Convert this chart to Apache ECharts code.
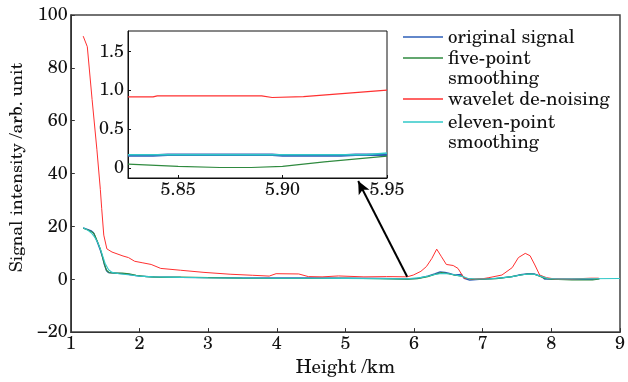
<!DOCTYPE html>
<html>
<head>
<meta charset="utf-8">
<script src="https://cdn.jsdelivr.net/npm/echarts@6/dist/echarts.min.js"></script>
<style>
html,body{margin:0;padding:0;background:#fff;}
#main{width:628px;height:382px;}
</style>
</head>
<body>
<div id="main"></div>
<script>
// series names
var names = ['original signal', 'five-point smoothing', 'wavelet de-noising', 'eleven-point smoothing'];
var colors = ['#2e5fb8', '#2f8a3f', '#ff3030', '#30c8c8'];

// main chart: [height km, intensity]
var original = [[1.18,19.4],[1.25,18.8],[1.3,18.3],[1.33,17.6],[1.38,14.5],[1.43,11],[1.46,8.5],[1.49,5.5],[1.52,3.2],[1.55,2.5],[1.6,2.4],[1.7,2.2],[1.8,2.0],[1.9,1.6],[2.0,1.2],[2.2,0.9],[2.6,0.7],[3.0,0.6],[3.5,0.5],[4.0,0.5],[4.5,0.5],[5.0,0.4],[5.5,0.3],[5.9,0.17],[6.05,0.3],[6.2,1.2],[6.3,2.0],[6.38,2.8],[6.45,2.6],[6.5,2.3],[6.6,1.6],[6.69,1.8],[6.73,0.3],[6.81,-0.3],[6.95,0.0],[7.2,0.3],[7.43,1.0],[7.55,1.7],[7.67,2.1],[7.75,2.0],[7.86,1.0],[7.9,0.1],[8.0,0.1],[8.3,0.0],[8.6,0.0],[8.7,0.2]];
var fivePoint = [[1.18,19.3],[1.25,18.6],[1.3,18.0],[1.34,17.2],[1.38,14.8],[1.43,11.5],[1.46,8.6],[1.49,5.6],[1.52,3.4],[1.56,2.5],[1.65,2.3],[1.75,2.3],[1.85,2.1],[1.95,1.5],[2.1,1.0],[2.3,0.7],[2.6,0.8],[3.0,0.6],[3.5,0.4],[4.0,0.3],[4.5,0.3],[5.0,0.4],[5.5,0.2],[5.9,0.02],[6.05,0.2],[6.2,1.0],[6.3,1.8],[6.4,2.5],[6.5,2.1],[6.6,1.5],[6.7,1.2],[6.75,0.4],[6.85,0.0],[6.95,0.0],[7.2,0.2],[7.4,0.9],[7.55,1.6],[7.65,2.0],[7.75,1.9],[7.82,1.2],[7.9,0.4],[8.0,0.0],[8.3,-0.3],[8.6,-0.3],[8.7,0.1]];
var wavelet = [[1.18,92],[1.24,88],[1.31,68],[1.38,49],[1.43,34],[1.45,26.7],[1.48,16.7],[1.525,11.5],[1.6,10.3],[1.76,8.8],[1.84,8.2],[1.93,6.8],[2.05,6.2],[2.17,5.6],[2.31,4.1],[2.6,3.4],[2.94,2.6],[3.32,1.9],[3.65,1.5],[3.89,1.2],[3.99,2.1],[4.32,2.0],[4.46,1.0],[4.66,0.9],[4.9,1.25],[5.27,0.9],[5.6,1.0],[5.9,0.92],[5.99,1.6],[6.1,3.0],[6.18,4.8],[6.26,7.9],[6.33,11.4],[6.4,8.5],[6.47,5.6],[6.57,5.2],[6.64,4.1],[6.7,1.6],[6.73,0.4],[6.85,0.1],[7.0,0.2],[7.09,0.6],[7.28,1.6],[7.43,4.4],[7.52,8.2],[7.62,9.8],[7.69,8.9],[7.76,5.4],[7.83,1.6],[7.93,0.6],[8.05,0.1],[8.3,0.1],[8.57,0.4],[8.69,0.4]];
var elevenPoint = [[1.18,19.5],[1.25,18.5],[1.3,17.5],[1.35,15.8],[1.4,13.5],[1.45,10.0],[1.5,6.0],[1.55,3.6],[1.6,2.6],[1.7,2.1],[1.8,1.8],[1.9,1.5],[2.0,1.2],[2.2,0.9],[2.6,0.7],[3.0,0.55],[3.5,0.45],[4.0,0.4],[4.5,0.4],[5.0,0.35],[5.5,0.25],[5.9,0.17],[6.09,0.6],[6.23,1.3],[6.3,1.8],[6.4,2.2],[6.5,2.1],[6.6,1.6],[6.7,1.1],[6.78,0.4],[6.9,0.1],[7.1,0.2],[7.3,0.6],[7.43,1.0],[7.55,1.6],[7.67,2.0],[7.75,1.9],[7.86,1.0],[7.95,0.3],[8.1,0.1],[8.5,0.2],[9.0,0.3]];

// inset (zoom 5.826 - 5.95 km)
var insetOriginal = [[5.826,0.16],[5.838,0.16],[5.845,0.168],[5.895,0.168],[5.9,0.16],[5.928,0.16],[5.935,0.168],[5.95,0.17]];
var insetFive = [[5.826,0.048],[5.85,0.02],[5.87,0.005],[5.885,0.005],[5.9,0.02],[5.92,0.077],[5.95,0.15]];
var insetWavelet = [[5.826,0.913],[5.838,0.913],[5.84,0.925],[5.89,0.925],[5.895,0.905],[5.91,0.915],[5.95,1.0]];
var insetEleven = [[5.826,0.168],[5.94,0.168],[5.95,0.19]];

// arrow from the signal to the inset
var arrowFrom = [5.9, 0.92];
var arrowTo = [5.186, 37.2];

var font = 'TeX Gyre Schola';
var myChart = echarts.init(document.getElementById('main'));

// one legend per series, second word of long names goes on its own line
function legendItem(i, top){
	return {
		orient: 'vertical', left: 403, top: top, padding: 0,
		icon: 'rect', itemWidth: 40, itemHeight: 1.5,
		data: [names[i]],
		selectedMode: false,
		formatter: function(n){ return n.replace(' smoothing', ''); },
		textStyle: {fontFamily: font, fontSize: 19, color: '#111', lineHeight: 20}
	};
}
function secondLine(y){
	return {
		type: 'text', x: 448, y: y, silent: true,
		style: {text: 'smoothing', font: '19px "' + font + '"', fill: '#111', verticalAlign: 'middle'}
	};
}

function line(i, data, xi, yi, w){
	return {
		name: names[i], type: 'line', data: data,
		xAxisIndex: xi, yAxisIndex: yi,
		showSymbol: false, symbol: 'none', silent: true,
		color: colors[i],
		lineStyle: {color: colors[i], width: w}
	};
}

var minus = function(v){ return String(v).replace('-', '\u2212'); };

var option = {
	animation: false,
	backgroundColor: '#fff',
	legend: [
		legendItem(0, 27),
		legendItem(1, 48),
		legendItem(2, 89),
		legendItem(3, 112)
	],
	graphic: [secondLine(78), secondLine(142)],
	grid: [
		{left: 65, top: 15, right: 5, bottom: 48, show: true, borderColor: '#444', borderWidth: 1.5},
		{left: 128, top: 31, width: 259, height: 147, show: true, borderColor: '#111', borderWidth: 1}
	],
	xAxis: [
		{
			type: 'value', gridIndex: 0, min: 1, max: 9, interval: 1,
			name: 'Height /km', nameLocation: 'middle', nameGap: 24,
			nameTextStyle: {fontFamily: font, fontSize: 19, color: '#111'},
			axisLine: {onZero: false, lineStyle: {color: '#333'}},
			axisTick: {inside: true, length: 4, lineStyle: {color: '#333'}},
			axisLabel: {fontFamily: font, fontSize: 18, color: '#111', margin: 3},
			splitLine: {show: false}
		},
		{
			type: 'value', gridIndex: 1, min: 5.826, max: 5.95, splitNumber: 2,
			axisLine: {onZero: false, lineStyle: {color: '#111'}},
			axisTick: {inside: true, length: 3, lineStyle: {color: '#111'}},
			axisLabel: {fontFamily: font, fontSize: 18, color: '#111', margin: 3, showMinLabel: false,
				formatter: function(v){ return v.toFixed(2); }},
			splitLine: {show: false}
		}
	],
	yAxis: [
		{
			type: 'value', gridIndex: 0, min: -20, max: 100, interval: 20,
			name: 'Signal intensity /arb. unit', nameLocation: 'middle', nameGap: 37,
			nameTextStyle: {fontFamily: font, fontSize: 17.5, color: '#111', padding: [0, 0, 0, 12]},
			axisLine: {show: true, onZero: false, lineStyle: {color: '#333'}},
			axisTick: {show: true, inside: true, length: 4, lineStyle: {color: '#333'}},
			axisLabel: {fontFamily: font, fontSize: 18, color: '#111', margin: 3, formatter: minus},
			splitLine: {show: false}
		},
		{
			type: 'value', gridIndex: 1, min: -0.13, max: 1.76, splitNumber: 4,
			axisLine: {show: true, onZero: false, lineStyle: {color: '#111'}},
			axisTick: {show: true, inside: true, length: 3, lineStyle: {color: '#111'}},
			axisLabel: {fontFamily: font, fontSize: 18, color: '#111', margin: 4,
				showMinLabel: false, showMaxLabel: false,
				formatter: function(v){ return v === 0 ? '0' : v.toFixed(1); }},
			splitLine: {show: false}
		}
	],
	series: [
		line(0, original, 0, 0, 1.3),
		line(1, fivePoint, 0, 0, 1.1),
		line(2, wavelet, 0, 0, 1),
		line(3, elevenPoint, 0, 0, 1.1),
		line(0, insetOriginal, 1, 1, 2.5),
		line(1, insetFive, 1, 1, 1.2),
		line(2, insetWavelet, 1, 1, 1.2),
		line(3, insetEleven, 1, 1, 1.5)
	]
};

// arrow
option.series[2].markLine = {
	silent: true, animation: false,
	symbol: ['none', 'arrow'], symbolSize: [9, 13],
	label: {show: false},
	lineStyle: {color: '#000', width: 2, type: 'solid'},
	data: [[{coord: arrowFrom}, {coord: arrowTo}]]
};

myChart.setOption(option);
</script>
</body>
</html>
